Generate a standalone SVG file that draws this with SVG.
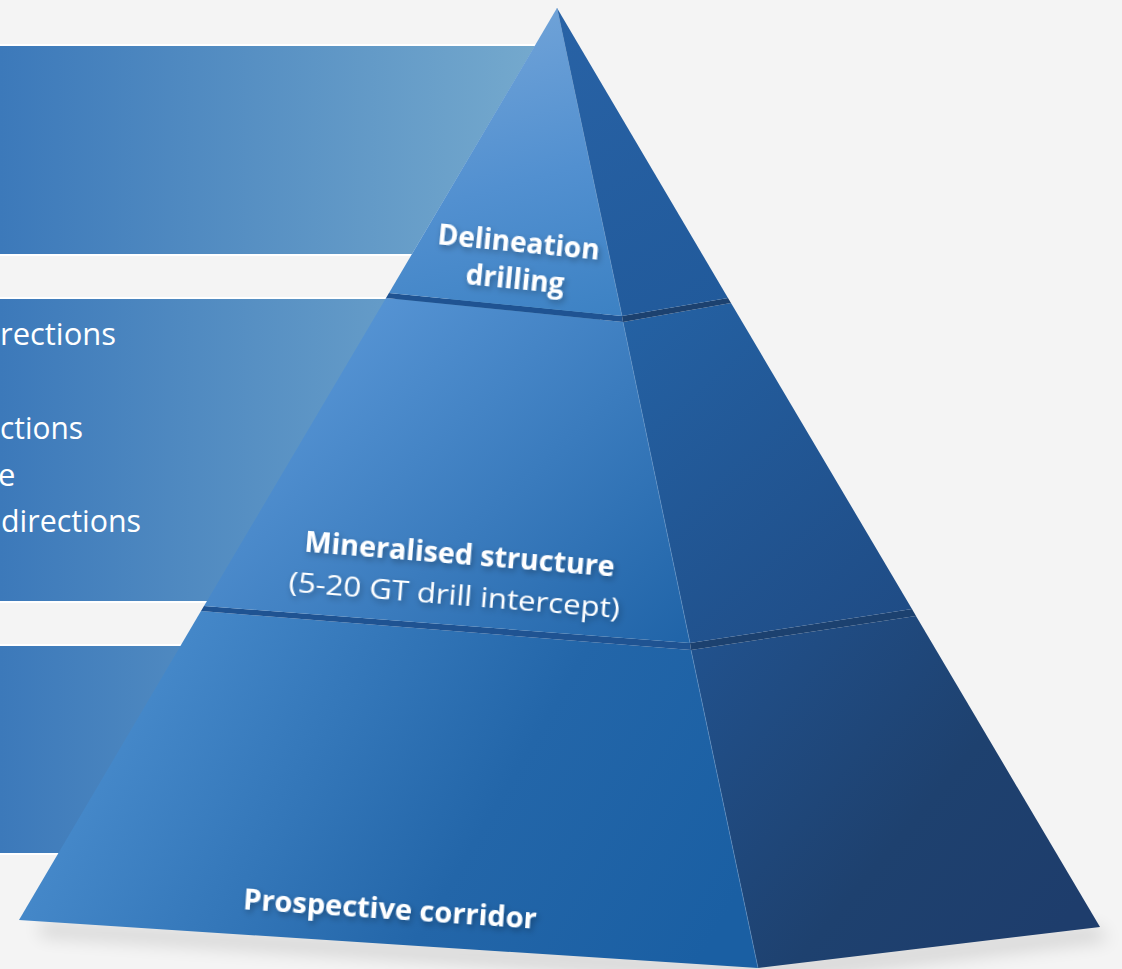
<svg xmlns="http://www.w3.org/2000/svg" width="1122" height="969" viewBox="0 0 1122 969">
<style>
.band{fill:url(#bandGrad)}
.edge{stroke:#ffffff;stroke-width:2}
.side{font-family:"Open Sans","Noto Sans","Liberation Sans",sans-serif;font-size:31px;fill:#ffffff}
.lbl{font-family:"Open Sans","Noto Sans","Liberation Sans",sans-serif;font-size:28px;fill:#ffffff;text-anchor:middle;filter:url(#txtShadow)}
.b{font-weight:700}
.strip{fill:#1f5392}
.stripR{fill:#1c416f}
.ridge{stroke:#6a9bd0;stroke-width:1;stroke-opacity:0.5;fill:none}
</style>
<defs>
<linearGradient id="bandGrad" gradientUnits="userSpaceOnUse" x1="0" y1="0" x2="560" y2="0">
<stop offset="0" stop-color="#3c79ba"/>
<stop offset="1" stop-color="#77abce"/>
</linearGradient>
<linearGradient id="topFront" gradientUnits="userSpaceOnUse" x1="540" y1="20" x2="620" y2="310">
<stop offset="0" stop-color="#6da1d7"/>
<stop offset="0.5" stop-color="#5290d0"/>
<stop offset="1" stop-color="#3d82c4"/>
</linearGradient>
<linearGradient id="topRight" gradientUnits="userSpaceOnUse" x1="560" y1="20" x2="720" y2="310">
<stop offset="0" stop-color="#2862a5"/>
<stop offset="1" stop-color="#215a9b"/>
</linearGradient>
<linearGradient id="midFront" gradientUnits="userSpaceOnUse" x1="380" y1="300" x2="690" y2="640">
<stop offset="0" stop-color="#5593d3"/>
<stop offset="1" stop-color="#2064a8"/>
</linearGradient>
<linearGradient id="midRight" gradientUnits="userSpaceOnUse" x1="630" y1="320" x2="910" y2="640">
<stop offset="0" stop-color="#2461a3"/>
<stop offset="1" stop-color="#1f4b84"/>
</linearGradient>
<linearGradient id="botFront" gradientUnits="userSpaceOnUse" x1="150" y1="640" x2="700" y2="960">
<stop offset="0" stop-color="#478acb"/>
<stop offset="0.6" stop-color="#2366a9"/>
<stop offset="1" stop-color="#1a5fa3"/>
</linearGradient>
<linearGradient id="botRight" gradientUnits="userSpaceOnUse" x1="700" y1="650" x2="1050" y2="940">
<stop offset="0" stop-color="#21518c"/>
<stop offset="0.6" stop-color="#1e416f"/>
<stop offset="1" stop-color="#1e3d6c"/>
</linearGradient>
<filter id="txtShadow" x="-20%" y="-50%" width="140%" height="200%">
<feDropShadow dx="2" dy="3" stdDeviation="3" flood-color="#000000" flood-opacity="0.3"/>
</filter>
<filter id="blur" x="-20%" y="-100%" width="140%" height="300%">
<feGaussianBlur stdDeviation="9"/>
</filter>
</defs>
<rect x="0" y="0" width="1122" height="969" fill="#f4f4f4"/>

<g id="band-1">
<polygon class="band" points="-5,46 535,46 412,254 -5,254"/>
<line class="edge" x1="-5" y1="45" x2="536" y2="45"/>
<line class="edge" x1="-5" y1="255" x2="412" y2="255"/>
</g>
<g id="band-2">
<rect class="band" x="-5" y="299" width="605" height="302"/>
<line class="edge" x1="-5" y1="298" x2="400" y2="298"/>
<line class="edge" x1="-5" y1="602" x2="220" y2="602"/>
<text class="side" x="0" y="345" textLength="116" lengthAdjust="spacingAndGlyphs">rections</text>
<text class="side" x="0" y="439" textLength="83" lengthAdjust="spacingAndGlyphs">ctions</text>
<text class="side" x="-2" y="486">e</text>
<text class="side" x="1" y="532" textLength="140" lengthAdjust="spacingAndGlyphs">directions</text>
</g>
<g id="band-3">
<rect class="band" x="-5" y="646" width="600" height="207"/>
<line class="edge" x1="-5" y1="645" x2="200" y2="645"/>
<line class="edge" x1="-5" y1="854" x2="80" y2="854"/>
</g>

<g id="shadow">
<polygon points="40,922 758,962 1095,926 1110,940 760,982 40,936" fill="#000000" opacity="0.13" filter="url(#blur)"/>
</g>

<g id="tier-bottom">
<polygon points="201,611 691,650 758,968 19,920" fill="url(#botFront)"/>
<polygon points="691,650 916,616 1100,927 758,968" fill="url(#botRight)"/>
<line class="ridge" x1="691" y1="650" x2="758" y2="968"/>
<text class="lbl b" transform="translate(390,910) rotate(3.8)" y="9" font-size="29.5" textLength="294" lengthAdjust="spacingAndGlyphs">Prospective corridor</text>
</g>

<g id="tier-middle">
<polygon class="strip" points="204,606 690,643 691,650 201,611"/>
<polygon class="stripR" points="690,643 912,609 916,616 691,650"/>
<polygon points="386,298 623,322 690,643 204,606" fill="url(#midFront)"/>
<polygon points="623,322 731,303 912,609 690,643" fill="url(#midRight)"/>
<line class="ridge" x1="623" y1="322" x2="690" y2="643"/>
<g transform="translate(458,575) rotate(4.6)">
<text class="lbl b" x="0" y="-11" font-size="29" textLength="311" lengthAdjust="spacingAndGlyphs">Mineralised structure</text>
<text class="lbl" x="-2" y="30" font-size="31.5" textLength="332" lengthAdjust="spacingAndGlyphs">(5-20 GT drill intercept)</text>
</g>
</g>

<g id="tier-top">
<polygon class="strip" points="389,293 622,316 623,322 386,298"/>
<polygon class="stripR" points="622,316 728,298 731,303 623,322"/>
<polygon points="557,8 622,316 389,293" fill="url(#topFront)"/>
<polygon points="557,8 728,298 622,316" fill="url(#topRight)"/>
<line class="ridge" x1="557" y1="8" x2="622" y2="316"/>
<g transform="translate(518,260) rotate(5.5)">
<text class="lbl b" x="-1" y="-8">Delineation</text>
<text class="lbl b" x="-1" y="29">drilling</text>
</g>
</g>
</svg>
